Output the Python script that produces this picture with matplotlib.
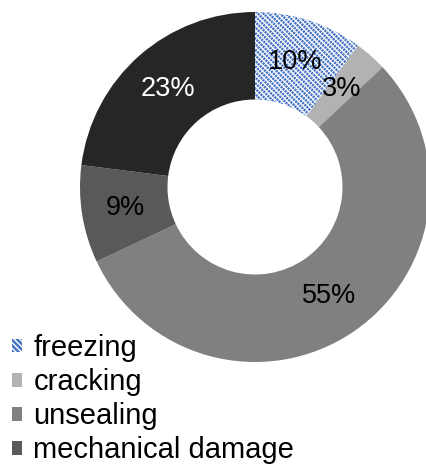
import matplotlib
matplotlib.use("Agg")
import matplotlib.pyplot as plt
from matplotlib.patches import Wedge
import numpy as np

categories = ["freezing", "cracking", "unsealing", "mechanical damage", "other"]
values = [10, 3, 55, 9, 23]
pct_labels = ["10%", "3%", "55%", "9%", "23%"]
legend_count = 4

plt.rcParams['font.family'] = ['Liberation Sans', 'DejaVu Sans']
plt.rcParams['hatch.linewidth'] = 1.8

colors = ["white", "#B2B2B2", "#808080", "#595959", "#262626"]
label_colors = ["black", "black", "black", "black", "white"]

fig = plt.figure(figsize=(4.27, 4.65), dpi=100)
ax = fig.add_axes([80 / 427, 103 / 465, 350 / 427, 350 / 465])

wedges, texts = ax.pie(values, colors=colors, startangle=90, counterclock=False,
                       radius=1.0, wedgeprops=dict(width=0.5, linewidth=0))
wedges[0].set_hatch('\\' * 6)
wedges[0].set_edgecolor('#4472C4')
wedges[0].set_linewidth(0)

# white cross-hatch overlay to give the dashed look of the pattern fill
plt.rcParams['hatch.linewidth'] = 0.6
w0 = wedges[0]
overlay = Wedge(w0.center, w0.r, w0.theta1, w0.theta2, width=w0.width,
                facecolor='none', edgecolor='white', linewidth=0, hatch='/' * 8)
ax.add_patch(overlay)
plt.rcParams['hatch.linewidth'] = 1.8

for w, lab, c in zip(wedges, pct_labels, label_colors):
    ang = np.deg2rad((w.theta1 + w.theta2) / 2)
    ax.text(0.75 * np.cos(ang), 0.75 * np.sin(ang), lab, ha='center', va='center',
            fontsize=19.5, color=c, zorder=5)

ax.set_xlim(-1, 1)
ax.set_ylim(-1, 1)
ax.set_aspect('equal')
ax.axis('off')

fig.legend(wedges[:legend_count], categories[:legend_count], loc='upper left',
           bbox_to_anchor=(12 / 427, 1 - 334 / 465), frameon=False, fontsize=21,
           handlelength=0.35, handleheight=0.35, handletextpad=0.38,
           labelspacing=0.21, borderpad=0, borderaxespad=0)

fig.savefig("out.png", dpi=100)
